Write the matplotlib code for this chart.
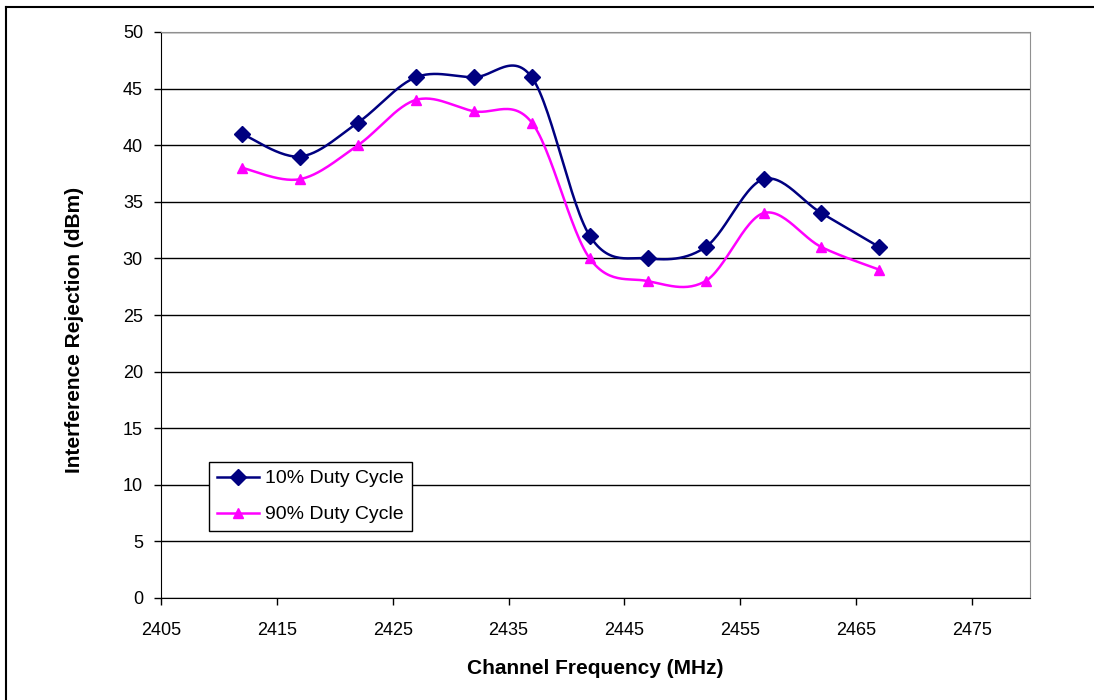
import matplotlib
matplotlib.use("Agg")
import matplotlib.pyplot as plt
import numpy as np
from matplotlib.lines import Line2D

# data
freq = [2412, 2417, 2422, 2427, 2432, 2437, 2442, 2447, 2452, 2457, 2462, 2467]
duty10 = [41, 39, 42, 46, 46, 46, 32, 30, 31, 37, 34, 31]
duty90 = [38, 37, 40, 44, 43, 42, 30, 28, 28, 34, 31, 29]
labels = ["10% Duty Cycle", "90% Duty Cycle"]
colors = ["#000080", "#FF00FF"]


def smooth(xs, ys, n=30):
    # Excel-style smoothed line: bezier segments with catmull-rom control points
    xs = np.asarray(xs, float)
    ys = np.asarray(ys, float)
    pts = np.column_stack([xs, ys])
    out = []
    for i in range(len(pts) - 1):
        p0 = pts[max(i - 1, 0)]
        p1 = pts[i]
        p2 = pts[i + 1]
        p3 = pts[min(i + 2, len(pts) - 1)]
        c1 = p1 + (p2 - p0) / 6.0
        c2 = p2 - (p3 - p1) / 6.0
        t = np.linspace(0, 1, n)[:, None]
        seg = ((1 - t) ** 3) * p1 + 3 * ((1 - t) ** 2) * t * c1 + 3 * (1 - t) * t ** 2 * c2 + t ** 3 * p2
        out.append(seg if i == 0 else seg[1:])
    out = np.vstack(out)
    return out[:, 0], out[:, 1]


plt.rcParams["font.family"] = ["Liberation Sans", "DejaVu Sans"]

fig = plt.figure(figsize=(10.94, 7.0), dpi=100)
ax = fig.add_axes([161 / 1094, 1 - 598 / 700, (1030 - 161) / 1094, (598 - 32) / 700])

# outer chart border (left and top visible)
fig.add_artist(Line2D([6 / 1094, 6 / 1094], [0, 1 - 7 / 700], color="black", lw=1.5, transform=fig.transFigure))
fig.add_artist(Line2D([6 / 1094, 1], [1 - 7 / 700, 1 - 7 / 700], color="black", lw=1.5, transform=fig.transFigure))

ax.set_xlim(2405, 2480)
ax.set_ylim(0, 50)
ax.set_xticks(np.arange(2405, 2476, 10))
ax.set_yticks(np.arange(0, 51, 5))
ax.yaxis.grid(True, color="black", lw=1.0)
ax.set_axisbelow(True)

for sp in ["top", "right"]:
    ax.spines[sp].set_color("#909090")
for sp in ["left", "bottom"]:
    ax.spines[sp].set_color("black")
ax.tick_params(axis="both", direction="out", length=5, width=1, labelsize=13)
ax.tick_params(axis="x", pad=12)
ax.tick_params(axis="y", pad=8)

sx, sy = smooth(freq, duty10)
ax.plot(sx, sy, color=colors[0], lw=1.8)
ax.plot(freq, duty10, linestyle="none", marker="D", ms=8, color=colors[0])
sx, sy = smooth(freq, duty90)
ax.plot(sx, sy, color=colors[1], lw=1.8)
ax.plot(freq, duty90, linestyle="none", marker="^", ms=7, color=colors[1])

ax.set_xlabel("Channel Frequency (MHz)", fontsize=15, fontweight="bold", labelpad=15)
ax.set_ylabel("Interference Rejection (dBm)", fontsize=15, fontweight="bold")
ax.yaxis.set_label_coords(-0.089, 0.474)

handles = [
    Line2D([], [], color=colors[0], lw=1.8, marker="D", ms=8),
    Line2D([], [], color=colors[1], lw=1.8, marker="^", ms=7),
]
leg = ax.legend(handles, labels, loc="lower left", bbox_to_anchor=(0.055, 0.118),
                borderaxespad=0, fontsize=14, frameon=True, fancybox=False,
                edgecolor="black", framealpha=1, handlelength=2.2, handletextpad=0.3,
                borderpad=0.4, labelspacing=0.95)
leg.get_frame().set_linewidth(1.0)

fig.savefig("out.png", dpi=100)
